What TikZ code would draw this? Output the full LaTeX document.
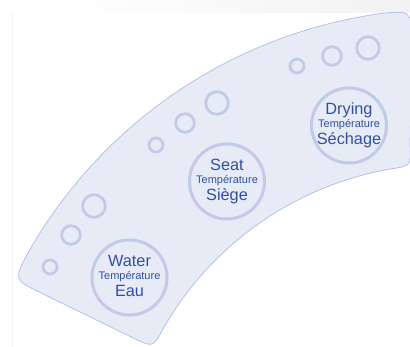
\documentclass[tikz,border=0pt]{standalone}
\usepackage{fontspec}
\setmainfont{Liberation Sans}
\definecolor{bandfill}{RGB}{231,235,246}
\definecolor{bandedge}{RGB}{172,188,228}
\definecolor{ringc}{RGB}{192,203,231}
\definecolor{textc}{RGB}{48,80,165}
\tikzset{
  bigring/.style={circle, draw=ringc, line width=3pt, minimum size=75pt, inner sep=0pt},
  ringS/.style={circle, draw=ringc, line width=2.7pt, minimum size=14pt, inner sep=0pt},
  ringM/.style={circle, draw=ringc, line width=2.7pt, minimum size=18.6pt, inner sep=0pt},
  ringL/.style={circle, draw=ringc, line width=2.7pt, minimum size=22.6pt, inner sep=0pt},
  bigword/.style={text=textc, font=\fontsize{16.3}{16}\selectfont, inner sep=0pt, anchor=base},
  smallword/.style={text=textc, font=\fontsize{11}{11}\selectfont, inner sep=0pt, anchor=base},
}
\begin{document}
\begin{tikzpicture}[x=1pt,y=1pt]
\useasboundingbox (0,0) rectangle (410,347);
\clip (0,0) rectangle (410,347);
% faint top strip and side line
\shade[left color=white, right color=black!5] (60,334) rectangle (410,347);
\fill[white] (0,334) rectangle (60,347);
\draw[black!5, line width=0.6pt] (12,0) -- (12,334);
% band
\begin{scope}[shift={(447,-144)}]
\filldraw[fill=bandfill, draw=bandedge, line width=0.7pt]
  (97.87:482) arc[start angle=97.87, end angle=150.43, radius=482]
  .. controls (154:482) .. (154:452) -- (154:349)
  .. controls (154:327) .. (150.15:327)
  arc[start angle=150.15, end angle=100.15, radius=327]
  .. controls (96.3:327) .. (96.1:349) -- (94.4:452)
  .. controls (94.3:482) .. (97.87:482) -- cycle;
\end{scope}
% small rings
\node[ringS] (s1) at (50,80) {};
\node[ringM] (m1) at (71,112) {};
\node[ringL] (l1) at (94,141) {};
\node[ringS] (s2) at (156,202) {};
\node[ringM] (m2) at (185,224) {};
\node[ringL] (l2) at (217,244) {};
\node[ringS] (s3) at (297,281) {};
\node[ringM] (m3) at (332,291) {};
\node[ringL] (l3) at (368,299) {};
% big rings
\node[bigring] (water) at (129.5,69.5) {};
\node[bigring] (seat) at (227,165.5) {};
\node[bigring] (dry) at (349,221.5) {};
% labels
\node[bigword] (waterA) at ([yshift=10.5pt]water.center) {Water};
\node[smallword] (waterB) at ([yshift=-2.5pt]water.center) {Température};
\node[bigword] (waterC) at ([yshift=-19.5pt]water.center) {Eau};
\node[bigword] (seatA) at ([yshift=10.5pt]seat.center) {Seat};
\node[smallword] (seatB) at ([yshift=-2.5pt]seat.center) {Température};
\node[bigword] (seatC) at ([yshift=-19.5pt]seat.center) {Siège};
\node[bigword] (dryA) at ([yshift=10.5pt]dry.center) {Drying};
\node[smallword] (dryB) at ([yshift=-2.5pt]dry.center) {Température};
\node[bigword] (dryC) at ([yshift=-19.5pt]dry.center) {Séchage};
\end{tikzpicture}
\end{document}
